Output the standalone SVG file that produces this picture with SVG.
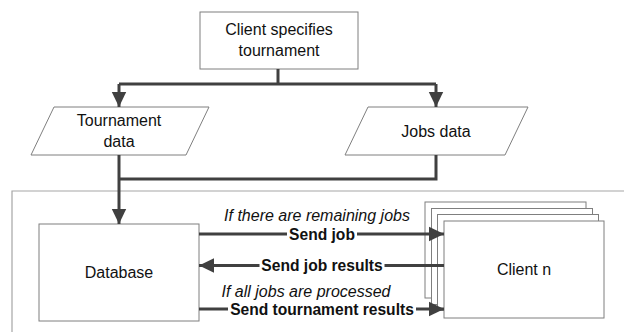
<svg xmlns="http://www.w3.org/2000/svg" width="624" height="332" viewBox="0 0 624 332">
<style>
.box{fill:#fff;stroke:#7f7f7f;stroke-width:1}
.frame{fill:none;stroke:#a6a6a6;stroke-width:1.2}
.t{font-family:"Liberation Sans",Arial,sans-serif;font-size:16px;fill:#111;text-anchor:middle}
.i{font-style:italic}
.b{font-weight:bold;font-size:15.6px}
.bg{fill:#fff}
.c{fill:none;stroke:#404040;stroke-width:3}
</style>
<defs>
<marker id="ah" markerUnits="userSpaceOnUse" markerWidth="16" markerHeight="16" viewBox="0 0 16 16" refX="15" refY="8" orient="auto">
<path d="M0,0.8 L15,8 L0,15.2 Z" fill="#404040"/>
</marker>
</defs>
<rect width="624" height="332" fill="#fff"/>
<path class="frame" d="M12,332 V191 H624"/>
<g id="client-specifies">
<rect class="box" x="200" y="12" width="158" height="57"/>
<text class="t" x="279" y="35">Client specifies</text>
<text class="t" x="279" y="56">tournament</text>
</g>
<g id="tournament-data">
<polygon class="box" points="54,107 209,107 186,155 31,155"/>
<text class="t" x="119" y="126">Tournament</text>
<text class="t" x="119" y="147">data</text>
</g>
<g id="jobs-data">
<polygon class="box" points="368,107 528,107 505,155 345,155"/>
<text class="t" x="436" y="137">Jobs data</text>
</g>
<g id="database">
<rect class="box" x="39" y="224" width="160" height="97"/>
<text class="t" x="119" y="278">Database</text>
</g>
<g id="client-n">
<rect class="box" x="425" y="202" width="161" height="96"/>
<rect class="box" x="431.5" y="208.5" width="161" height="96"/>
<rect class="box" x="437.5" y="214.5" width="161" height="96"/>
<rect class="box" x="444" y="221" width="160" height="97"/>
<text class="t" x="524" y="275">Client n</text>
</g>
<g id="connectors">
<path class="c" d="M278,69 V84"/>
<path class="c" d="M119,84 H436"/>
<path class="c" d="M119,84 V107" marker-end="url(#ah)"/>
<path class="c" d="M436,84 V107" marker-end="url(#ah)"/>
<path class="c" d="M436,155 V179 H119"/>
<path class="c" d="M119,155 V224" marker-end="url(#ah)"/>
<path class="c" d="M199,234 H444" marker-end="url(#ah)"/>
<path class="c" d="M444,265.5 H199" marker-end="url(#ah)"/>
<path class="c" d="M199,309 H444" marker-end="url(#ah)"/>
<rect class="bg" x="287" y="227" width="70" height="14"/>
<rect class="bg" x="259.5" y="258.5" width="125" height="14"/>
<rect class="bg" x="228" y="302" width="188" height="14"/>
<text class="t i" x="317" y="221">If there are remaining jobs</text>
<text class="t b" x="322" y="239.5">Send job</text>
<text class="t b" x="322" y="271">Send job results</text>
<text class="t i" x="306" y="297">If all jobs are processed</text>
<text class="t b" x="322" y="314.5">Send tournament results</text>
</g>
</svg>
